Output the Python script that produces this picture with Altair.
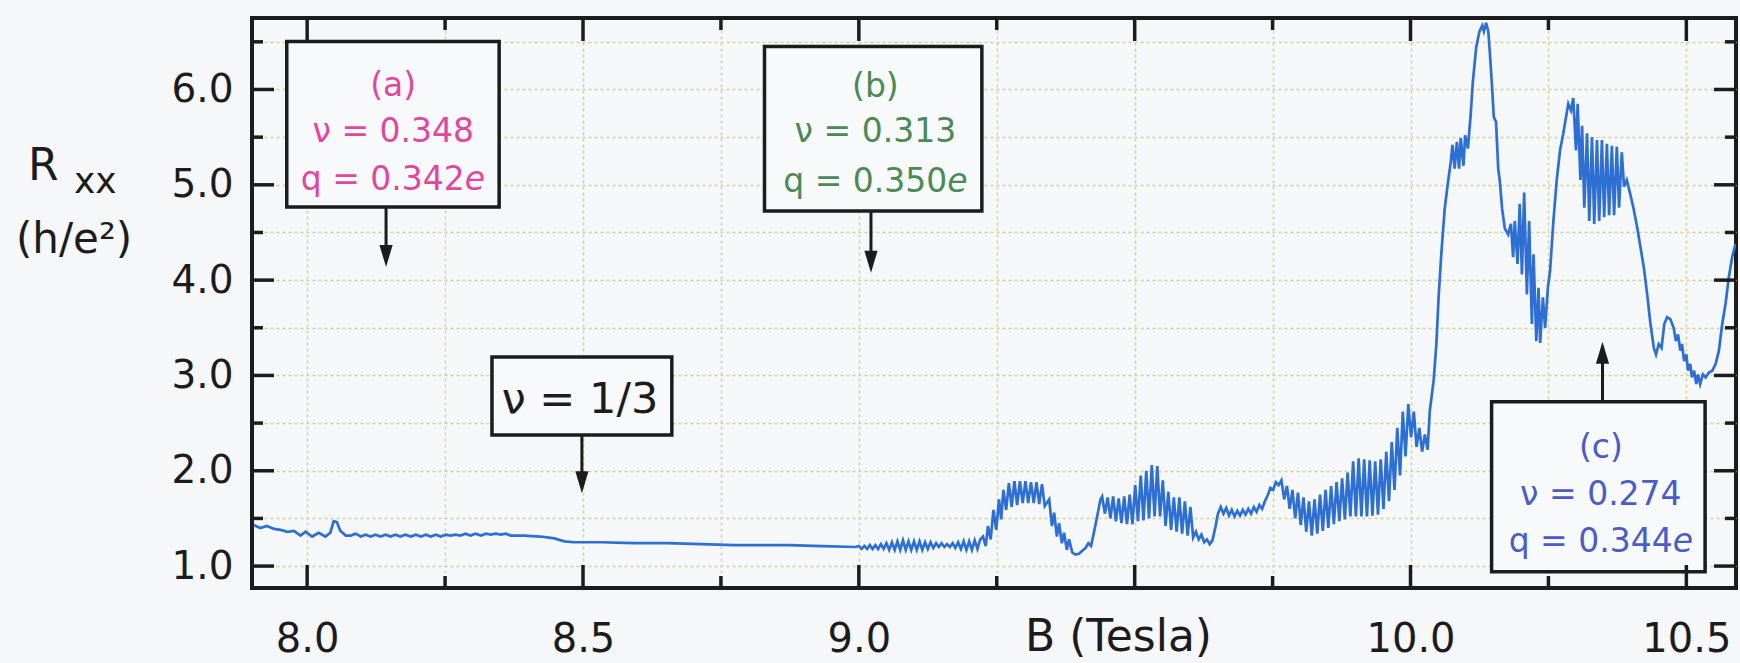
import altair as alt
import pandas as pd

# ---------------- data ----------------
# flat part 7.9 - 9.0 T : (B [T], Rxx [h/e^2])
low_pts = [(7.903,1.43),(7.915,1.40),(7.927,1.42),(7.940,1.39),(7.952,1.38),(7.964,1.36),(7.976,1.37),
 (7.988,1.32),(7.997,1.36),(8.009,1.31),(8.021,1.35),(8.033,1.31),(8.042,1.35),(8.048,1.47),(8.054,1.46),
 (8.060,1.37),(8.070,1.32),(8.079,1.32),(8.088,1.34),(8.097,1.31),(8.106,1.33),(8.115,1.31),(8.124,1.33),
 (8.133,1.31),(8.142,1.33),(8.151,1.31),(8.160,1.33),(8.169,1.31),(8.178,1.33),(8.188,1.31),(8.197,1.33),
 (8.206,1.31),(8.215,1.33),(8.224,1.31),(8.233,1.33),(8.242,1.31),(8.251,1.33),(8.260,1.32),(8.269,1.33),
 (8.278,1.32),(8.287,1.34),(8.296,1.32),(8.305,1.34),(8.315,1.32),(8.324,1.34),(8.333,1.33),(8.342,1.34),
 (8.351,1.33),(8.360,1.34),(8.369,1.32),(8.393,1.32),(8.423,1.31),(8.448,1.29),(8.466,1.26),(8.484,1.25),
 (8.532,1.25),(8.593,1.24),(8.653,1.24),(8.714,1.23),(8.774,1.22),(8.811,1.22),(8.873,1.22),(8.933,1.21),
 (8.994,1.20)]

# oscillating part 9.0 - 10.03 T
mid_pts = [(9.000,1.21),(9.005,1.18),(9.010,1.21),(9.015,1.18),(9.020,1.22),(9.025,1.18),(9.030,1.22),
 (9.035,1.18),(9.040,1.23),(9.045,1.18),(9.050,1.24),(9.055,1.17),(9.060,1.25),(9.065,1.17),(9.070,1.26),
 (9.075,1.17),(9.080,1.27),(9.085,1.17),(9.090,1.26),(9.095,1.17),(9.100,1.26),(9.105,1.17),(9.110,1.26),
 (9.115,1.17),(9.120,1.25),(9.125,1.18),(9.130,1.25),(9.135,1.19),(9.140,1.24),(9.145,1.20),(9.150,1.24),
 (9.155,1.20),(9.160,1.23),(9.165,1.20),(9.170,1.24),(9.175,1.19),(9.180,1.25),(9.185,1.18),(9.190,1.26),
 (9.195,1.17),(9.200,1.26),(9.205,1.17),(9.210,1.27),(9.215,1.18),(9.220,1.28),(9.225,1.31),(9.230,1.21),
 (9.234,1.42),(9.239,1.28),(9.244,1.59),(9.249,1.38),(9.254,1.70),(9.258,1.49),(9.262,1.80),(9.267,1.59),
 (9.272,1.87),(9.277,1.62),(9.282,1.89),(9.287,1.64),(9.292,1.89),(9.297,1.66),(9.302,1.89),(9.307,1.66),
 (9.312,1.88),(9.317,1.66),(9.322,1.88),(9.327,1.65),(9.332,1.86),(9.337,1.63),(9.345,1.70),(9.350,1.42),
 (9.354,1.56),(9.359,1.31),(9.363,1.45),(9.368,1.24),(9.372,1.35),(9.377,1.17),(9.381,1.28),(9.387,1.14),
 (9.393,1.12),(9.399,1.13),(9.405,1.16),(9.411,1.19),(9.416,1.24),(9.421,1.21),(9.426,1.35),(9.432,1.52),
 (9.438,1.70),(9.441,1.73),(9.446,1.55),(9.451,1.72),(9.456,1.50),(9.461,1.73),(9.466,1.47),(9.471,1.71),
 (9.476,1.45),(9.481,1.73),(9.486,1.44),(9.491,1.75),(9.496,1.44),(9.501,1.85),(9.506,1.47),(9.511,1.95),
 (9.516,1.48),(9.521,2.00),(9.526,1.50),(9.531,2.06),(9.536,1.52),(9.541,2.05),(9.546,1.52),(9.551,1.90),
 (9.556,1.42),(9.561,1.78),(9.566,1.38),(9.571,1.72),(9.576,1.36),(9.581,1.72),(9.586,1.34),(9.591,1.68),
 (9.596,1.32),(9.601,1.62),(9.606,1.30),(9.611,1.36),(9.616,1.28),(9.621,1.33),(9.626,1.25),(9.631,1.28),
 (9.636,1.23),(9.641,1.27),(9.646,1.40),(9.651,1.55),(9.656,1.62),(9.661,1.55),(9.666,1.61),(9.671,1.53),
 (9.676,1.59),(9.681,1.52),(9.686,1.58),(9.691,1.53),(9.696,1.59),(9.701,1.54),(9.706,1.60),(9.711,1.55),
 (9.716,1.62),(9.721,1.57),(9.726,1.64),(9.731,1.60),(9.736,1.68),(9.741,1.74),(9.746,1.82),(9.751,1.80),
 (9.756,1.88),(9.761,1.85),(9.766,1.90),(9.771,1.70),(9.776,1.84),(9.781,1.60),(9.786,1.80),(9.791,1.50),
 (9.796,1.77),(9.801,1.43),(9.806,1.72),(9.811,1.36),(9.816,1.68),(9.821,1.32),(9.826,1.70),(9.831,1.34),
 (9.836,1.75),(9.841,1.37),(9.846,1.80),(9.851,1.40),(9.856,1.84),(9.861,1.44),(9.866,1.88),(9.871,1.47),
 (9.876,1.92),(9.881,1.49),(9.886,1.98),(9.891,1.52),(9.896,2.10),(9.901,1.52),(9.906,2.13),(9.911,1.52),
 (9.916,2.12),(9.921,1.52),(9.926,2.11),(9.931,1.53),(9.936,2.10),(9.941,1.54),(9.946,2.12),(9.951,1.60),
 (9.956,2.20),(9.961,1.68),(9.966,2.30),(9.971,1.80),(9.976,2.45),(9.981,1.95),(9.986,2.62),(9.991,2.15),
 (9.996,2.70),(10.001,2.35),(10.006,2.62),(10.011,2.25),(10.016,2.45),(10.021,2.20),(10.026,2.38),
 (10.031,2.22)]

# high-field part 10.03 - 10.59 T
high_pts = [(10.035,2.63),(10.042,2.95),(10.047,3.34),(10.051,3.83),(10.056,4.29),(10.062,4.75),
 (10.068,5.03),(10.073,5.24),(10.076,5.42),(10.080,5.17),(10.084,5.45),(10.088,5.17),(10.091,5.49),
 (10.096,5.20),(10.099,5.52),(10.104,5.38),(10.109,5.73),(10.113,6.08),(10.119,6.44),(10.125,6.61),
 (10.130,6.67),(10.133,6.61),(10.137,6.70),(10.141,6.61),(10.144,6.37),(10.148,6.01),(10.151,5.71),
 (10.155,5.66),(10.159,5.17),(10.162,5.03),(10.166,4.75),(10.171,4.54),(10.177,4.48),(10.182,4.59),
 (10.186,4.24),(10.189,4.62),(10.194,4.17),(10.198,4.80),(10.202,4.06),(10.206,4.92),(10.211,3.85),
 (10.215,4.62),(10.220,3.54),(10.223,4.27),(10.228,3.36),(10.232,3.92),(10.235,3.34),(10.240,3.82),
 (10.244,3.50),(10.249,3.92),(10.253,4.10),(10.259,4.62),(10.265,5.05),(10.271,5.36),(10.277,5.54),
 (10.281,5.68),(10.286,5.85),(10.291,5.78),(10.295,5.91),(10.300,5.36),(10.303,5.85),(10.308,5.05),
 (10.311,5.62),(10.315,4.76),(10.320,5.54),(10.324,4.62),(10.329,5.50),(10.333,4.59),(10.338,5.47),
 (10.342,4.62),(10.347,5.47),(10.351,4.66),(10.356,5.43),(10.360,4.68),(10.365,5.41),(10.369,4.68),
 (10.374,5.40),(10.378,4.76),(10.383,5.34),(10.387,4.98),(10.392,5.05),(10.398,4.91),(10.404,4.76),
 (10.411,4.55),(10.417,4.34),(10.423,4.13),(10.429,3.85),(10.435,3.54),(10.441,3.29),(10.445,3.22),
 (10.450,3.33),(10.455,3.29),(10.460,3.54),(10.465,3.61),(10.471,3.59),(10.477,3.50),(10.481,3.36),
 (10.485,3.43),(10.489,3.26),(10.492,3.33),(10.496,3.15),(10.500,3.22),(10.503,3.05),(10.507,3.12),
 (10.510,2.98),(10.514,3.05),(10.518,2.91),(10.521,3.01),(10.525,2.91),(10.530,3.01),(10.535,2.98),
 (10.541,3.03),(10.547,3.05),(10.553,3.12),(10.559,3.26),(10.565,3.54),(10.571,3.75),(10.577,4.03),
 (10.583,4.24),(10.589,4.38)]

# axis ticks / grid
x_major = [8.0, 8.5, 9.0, 9.5, 10.0, 10.5]
x_minor = [8.25, 8.75, 9.25, 9.75, 10.25]
y_major = [1.0, 2.0, 3.0, 4.0, 5.0, 6.0]
y_minor = [1.5, 2.5, 3.5, 4.5, 5.5, 6.5]
x_domain = [7.90, 10.59]
y_domain = [0.77, 6.75]

# annotation boxes (a), (b), nu=1/3, (c)
box_b1 = [7.963, 8.829, 8.335, 10.147]
box_b2 = [8.348, 9.223, 8.661, 10.534]
box_r1 = [6.503, 6.451, 3.194, 2.725]
box_r2 = [4.767, 4.725, 2.375, 0.941]
# arrows
arrow_b = [8.143, 9.022, 8.498, 10.348]
arrow_from = [4.767, 4.725, 2.375, 2.725]
arrow_shaft_end = [4.30, 4.24, 1.90, 3.20]
arrow_tip = [4.138, 4.078, 1.764, 3.354]
arrow_dir = ["down", "down", "down", "up"]
# annotation text
ann_text = ["(a)", "\u03bd = 0.348", "(b)", "\u03bd = 0.313", "(c)", "\u03bd = 0.274"]
ann_b = [8.156, 8.156, 9.030, 9.030, 10.345, 10.345]
ann_r = [6.041, 5.554, 6.029, 5.554, 2.244, 1.743]
ann_col = ["#e0479f", "#e0479f", "#4b8a55", "#4b8a55", "#4a5cc6", "#4a5cc6"]
q_text = ["q = 0.342", "q = 0.350", "q = 0.344"]
q_b = [8.2857, 9.1603, 10.4753]
q_r = [5.055, 5.027, 1.253]
q_col = ["#e0479f", "#4b8a55", "#4a5cc6"]
nu_text = ["\u03bd = 1/3"]
nu_b = [8.4945]
nu_r = [2.747]

# ---------------- chart ----------------
FONT = "DejaVu Sans"
INK = "#1c1c1c"
W, H = 1484, 570

pts = low_pts + mid_pts + high_pts
curve = pd.DataFrame({"B": [p[0] for p in pts], "R": [p[1] for p in pts],
                      "i": list(range(len(pts)))})

xs = alt.Scale(domain=x_domain, nice=False, zero=False)
ys = alt.Scale(domain=y_domain, nice=False, zero=False)

x_all = sorted(x_major + x_minor)
y_all = sorted(y_major + y_minor)

xaxis = alt.Axis(values=x_all,
                 labelExpr="(datum.value % 0.5 == 0 && datum.value != 9.5) ? format(datum.value, '.1f') : ''",
                 labelFont=FONT, labelFontSize=40, labelColor=INK, labelPadding=31,
                 labelOverlap=False, labelFlush=False,
                 ticks=False, domain=False, grid=True, gridColor="#d6d39a",
                 gridDash=[3, 3], gridWidth=1.5,
                 title="B (Tesla)", titleFont=FONT, titleFontSize=44, titleFontWeight="normal",
                 titleColor=INK, titleX=866, titleY=62, titleBaseline="alphabetic",
                 titleAlign="center")
yaxis = alt.Axis(values=y_all,
                 labelExpr="datum.value % 1 == 0 ? format(datum.value, '.1f') : ''",
                 labelFont=FONT, labelFontSize=39, labelColor=INK, labelPadding=19,
                 labelOverlap=False, labelFlush=False,
                 ticks=False, domain=False, grid=True, gridColor="#d6d39a",
                 gridDash=[3, 3], gridWidth=1.5, title="")


def X(field):
    return alt.X(field, scale=xs, axis=xaxis)


def Y(field):
    return alt.Y(field, scale=ys, axis=yaxis)


line = alt.Chart(curve).mark_line(color="#2d6fd2", strokeWidth=2.7, clip=True).encode(
    x=X("B:Q"), y=Y("R:Q"), order="i:Q",
)

boxes = alt.Chart(pd.DataFrame({"b1": box_b1, "b2": box_b2, "r1": box_r1, "r2": box_r2})).mark_rect(
    fill="#f8f9fb", stroke=INK, strokeWidth=3.5
).encode(x=X("b1:Q"), x2="b2:Q", y=Y("r1:Q"), y2="r2:Q")

arr_df = pd.DataFrame({"b": arrow_b, "r1": arrow_from, "r2": arrow_shaft_end,
                       "tip": arrow_tip, "dir": arrow_dir})
shafts = alt.Chart(arr_df).mark_rule(color=INK, strokeWidth=3).encode(
    x=X("b:Q"), y=Y("r1:Q"), y2="r2:Q",
)
heads_down = alt.Chart(arr_df).transform_filter("datum.dir == 'down'").mark_point(
    shape="M-0.6,-2L0.6,-2L0,0Z", filled=True, size=484, color=INK, opacity=1
).encode(x=X("b:Q"), y=Y("tip:Q"))
heads_up = alt.Chart(arr_df).transform_filter("datum.dir == 'up'").mark_point(
    shape="M-0.6,2L0.6,2L0,0Z", filled=True, size=484, color=INK, opacity=1
).encode(x=X("b:Q"), y=Y("tip:Q"))

ann = alt.Chart(pd.DataFrame({"t": ann_text, "b": ann_b, "r": ann_r, "c": ann_col})).mark_text(
    font=FONT, fontSize=33, align="center", baseline="middle"
).encode(x=X("b:Q"), y=Y("r:Q"), text="t:N", color=alt.Color("c:N", scale=None))
q_df = pd.DataFrame({"t": q_text, "b": q_b, "r": q_r, "c": q_col, "e": ["e"] * 3})
qtxt = alt.Chart(q_df).mark_text(font=FONT, fontSize=33, align="right", baseline="middle").encode(
    x=X("b:Q"), y=Y("r:Q"), text="t:N", color=alt.Color("c:N", scale=None),
)
qe = alt.Chart(q_df).mark_text(font=FONT, fontSize=33, fontStyle="italic", align="left",
                               baseline="middle").encode(
    x=X("b:Q"), y=Y("r:Q"), text="e:N", color=alt.Color("c:N", scale=None),
)
nu = alt.Chart(pd.DataFrame({"t": nu_text, "b": nu_b, "r": nu_r})).mark_text(
    font=FONT, fontSize=43, align="center", baseline="middle", color=INK
).encode(x=X("b:Q"), y=Y("r:Q"), text="t:N")


# inward frame ticks
def xticks(vals, length):
    d = pd.DataFrame({"v": vals})
    bot = alt.Chart(d).mark_rule(color=INK, strokeWidth=3.5).encode(
        x=X("v:Q"), y=alt.value(H), y2=alt.value(H - length))
    top = alt.Chart(d).mark_rule(color=INK, strokeWidth=3.5).encode(
        x=X("v:Q"), y=alt.value(0), y2=alt.value(length))
    return [bot, top]


def yticks(vals, length):
    d = pd.DataFrame({"v": vals})
    left = alt.Chart(d).mark_rule(color=INK, strokeWidth=3.5).encode(
        y=Y("v:Q"), x=alt.value(0), x2=alt.value(length))
    right = alt.Chart(d).mark_rule(color=INK, strokeWidth=3.5).encode(
        y=Y("v:Q"), x=alt.value(W), x2=alt.value(W - length))
    return [left, right]


tick_layers = xticks(x_major, 23) + xticks(x_minor, 12) + yticks(y_major, 22) + yticks(y_minor, 11)

# y-axis title  R_xx (h/e^2)
one = pd.DataFrame({"k": [0]})
t_R = alt.Chart(one).mark_text(font=FONT, fontSize=44, align="left", baseline="alphabetic",
                               color=INK).encode(x=alt.value(-224), y=alt.value(162), text=alt.value("R"))
t_xx = alt.Chart(one).mark_text(font=FONT, fontSize=36, align="left", baseline="alphabetic",
                                color=INK).encode(x=alt.value(-178), y=alt.value(175), text=alt.value("xx"))
t_unit = alt.Chart(one).mark_text(font=FONT, fontSize=42, align="center", baseline="alphabetic",
                                  color=INK).encode(x=alt.value(-178), y=alt.value(235),
                                                    text=alt.value("(h/e\u00b2)"))

chart = alt.layer(
    line, boxes, shafts, heads_down, heads_up, ann, qtxt, qe, nu,
    *tick_layers, t_R, t_xx, t_unit
).properties(
    width=W, height=H,
    padding={"left": 252, "top": 18, "right": 4, "bottom": 75},
    autosize=alt.AutoSizeParams(type="none"),
    background="#f6f7f9",
).configure_view(stroke=INK, strokeWidth=4)

chart.save("out.html", embed_options={"renderer": "svg", "actions": False})
